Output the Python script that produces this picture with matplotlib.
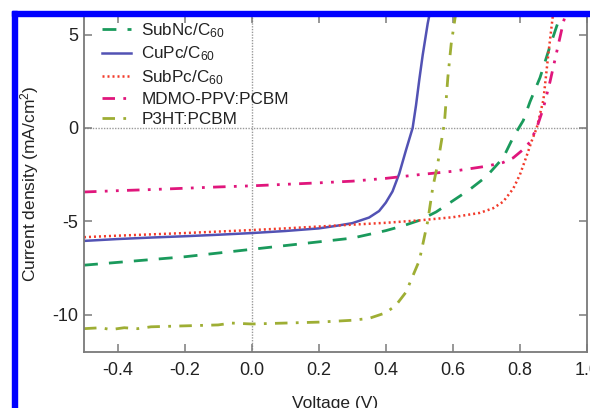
import matplotlib
matplotlib.use("Agg")
import matplotlib.pyplot as plt
from matplotlib.patches import Rectangle

plt.rcParams['font.family'] = ['Liberation Sans', 'DejaVu Sans']
plt.rcParams['mathtext.default'] = 'regular'

# ---- data ----
labels = ["SubNc/C$_{60}$", "CuPc/C$_{60}$", "SubPc/C$_{60}$", "MDMO-PPV:PCBM", "P3HT:PCBM"]

V_subnc = [-0.5, -0.4, -0.3, -0.2, -0.1, 0.0, 0.1, 0.2, 0.3, 0.4, 0.45, 0.5, 0.55, 0.6,
           0.65, 0.7, 0.75, 0.78, 0.81, 0.83, 0.86, 0.89, 0.92]
J_subnc = [-7.35, -7.2, -7.05, -6.9, -6.7, -6.5, -6.3, -6.1, -5.9, -5.5, -5.25, -4.95, -4.5, -3.9,
           -3.3, -2.6, -1.6, -0.5, 0.4, 1.4, 2.7, 4.4, 6.0]

V_cupc = [-0.5, -0.4, -0.3, -0.2, -0.1, 0.0, 0.1, 0.2, 0.25, 0.3, 0.35, 0.38, 0.4, 0.42,
          0.44, 0.46, 0.47, 0.48, 0.49, 0.5, 0.51, 0.525, 0.535]
J_cupc = [-6.05, -5.95, -5.87, -5.8, -5.72, -5.63, -5.52, -5.38, -5.25, -5.1, -4.8, -4.45, -4.0, -3.4,
          -2.45, -1.2, -0.6, 0.0, 1.2, 2.6, 3.9, 5.6, 6.5]

V_subpc = [-0.5, -0.4, -0.3, -0.2, -0.1, 0.0, 0.1, 0.2, 0.3, 0.4, 0.5, 0.6, 0.68, 0.72,
           0.75, 0.78, 0.8, 0.82, 0.835, 0.85, 0.87, 0.885, 0.9]
J_subpc = [-5.85, -5.77, -5.7, -5.63, -5.55, -5.47, -5.38, -5.28, -5.18, -5.08, -4.95, -4.78, -4.55, -4.3,
           -3.95, -3.25, -2.5, -1.5, -0.7, 0.0, 1.5, 4.0, 6.3]

V_mdmo = [-0.5, -0.4, -0.3, -0.2, -0.1, 0.0, 0.1, 0.2, 0.3, 0.4, 0.5, 0.6, 0.7, 0.75,
          0.78, 0.81, 0.83, 0.85, 0.87, 0.89, 0.91, 0.93, 0.94]
J_mdmo = [-3.43, -3.36, -3.3, -3.23, -3.16, -3.1, -3.02, -2.94, -2.85, -2.7, -2.5, -2.32, -2.05, -1.85,
          -1.6, -1.15, -0.75, 0.0, 1.07, 2.5, 4.1, 5.7, 6.3]

V_p3ht = [-0.5, -0.45, -0.42, -0.38, -0.34, -0.3, -0.2, -0.1, -0.06, 0.0, 0.1, 0.2, 0.3, 0.35,
          0.4, 0.43, 0.46, 0.5, 0.525, 0.54, 0.555, 0.566, 0.575, 0.585, 0.595, 0.61]
J_p3ht = [-10.75, -10.7, -10.8, -10.7, -10.75, -10.65, -10.6, -10.55, -10.45, -10.5, -10.45, -10.4, -10.3, -10.2,
          -9.9, -9.5, -8.8, -7.1, -5.0, -3.2, -1.9, -0.7, 0.3, 2.7, 4.5, 6.3]

x_ticks = [-0.4, -0.2, 0.0, 0.2, 0.4, 0.6, 0.8, 1.0]
x_ticklabels = ["-0.4", "-0.2", "0.0", "0.2", "0.4", "0.6", "0.8", "1.0"]
y_ticks = [5, 0, -5, -10]
y_ticklabels = ["5", "0", "-5", "-10"]

# ---- figure ----
W, H = 590, 408
fig = plt.figure(figsize=(W / 100, H / 100), dpi=100)
L, R, T, B = 84, 587, 15, 352
ax = fig.add_axes([L / W, (H - B) / H, (R - L) / W, (B - T) / H])

ax.axvline(0, color='#999999', lw=1.0, ls=(0, (1, 1)), zorder=1)
ax.axhline(0, color='#999999', lw=1.0, ls=(0, (1, 1)), zorder=1)

ax.plot(V_subnc, J_subnc, color='#1a9a5c', lw=2.0, ls=(0, (5, 4)), label=labels[0])
ax.plot(V_cupc, J_cupc, color='#5252b4', lw=1.8, ls='-', label=labels[1])
ax.plot(V_subpc, J_subpc, color='#f23a2a', lw=1.8, ls=(0, (0.8, 1.2)), label=labels[2])
ax.plot(V_mdmo, J_mdmo, color='#e0167c', lw=2.0, ls=(0, (4.5, 3, 1, 3, 1, 3)), label=labels[3])
ax.plot(V_p3ht, J_p3ht, color='#9eae34', lw=2.0, ls=(0, (4.5, 3, 1, 3)), label=labels[4])

ax.set_xlim(-0.5, 1.0)
ax.set_ylim(-12, 6.05)
ax.set_xticks(x_ticks)
ax.set_xticklabels(x_ticklabels)
ax.set_yticks(y_ticks)
ax.set_yticklabels(y_ticklabels)

for s in ax.spines.values():
    s.set_color('#7a7a7a')
    s.set_linewidth(1.3)
ax.tick_params(axis='both', direction='in', length=6, width=1.1, color='#7a7a7a',
               top=True, right=True, labelsize=13, labelcolor='#222222')
ax.tick_params(axis='x', pad=7)
ax.tick_params(axis='y', pad=4)

ax.set_ylabel("Current density (mA/cm$^{2}$)", fontsize=12.5, color='#222222')
ax.yaxis.set_label_coords(-0.086, 0.5)
ax.set_xlabel("Voltage (V)", fontsize=12.5, color='#222222')
ax.xaxis.set_label_coords(0.5, -0.13)

leg = ax.legend(loc='upper left', frameon=False, fontsize=12.3, handlelength=1.7,
                handletextpad=0.6, labelspacing=0.3, borderaxespad=0.0,
                bbox_to_anchor=(0.022, 1.003))
for t in leg.get_texts():
    t.set_color('#222222')

# blue frame from the scanned crop
fig.add_artist(Rectangle((12 / W, 0), 5 / W, (H - 11) / H, transform=fig.transFigure,
                         color='#0000ff', zorder=10))
fig.add_artist(Rectangle((12 / W, (H - 16) / H), (W - 12) / W, 5 / H, transform=fig.transFigure,
                         color='#0000ff', zorder=10))

fig.savefig("out.png", dpi=100)
